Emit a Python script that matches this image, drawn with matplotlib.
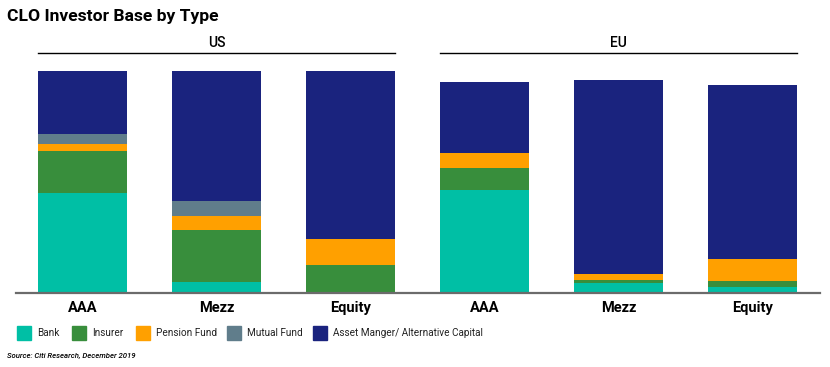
import matplotlib.pyplot as plt
from matplotlib.patches import Rectangle
import matplotlib.transforms as mtransforms

plt.rcParams['font.family'] = ['Roboto', 'DejaVu Sans']

# data (share of investor base, %)
categories = ["AAA", "Mezz", "Equity", "AAA", "Mezz", "Equity"]
regions = ["US", "EU"]
series = ["Bank", "Insurer", "Pension Fund", "Mutual Fund",
          "Asset Manger/ Alternative Capital"]
bank = [45.0, 4.8, 0.0, 46.3, 4.4, 2.6]
insurer = [19.0, 23.5, 12.5, 9.9, 1.3, 2.7]
pension = [3.0, 6.3, 11.7, 6.8, 2.7, 9.9]
mutual = [4.5, 6.8, 0.0, 0.0, 0.0, 0.0]
asset_mgr = [28.5, 58.6, 75.8, 32.0, 87.5, 78.5]

colors = ["#00BFA5", "#388E3C", "#FFA000", "#607D8B", "#1A237E"]

W, H = 830, 367
fig = plt.figure(figsize=(W / 100, H / 100), dpi=100)
ax = fig.add_axes([15.5 / W, (H - 292.7) / H, 804 / W, 221.7 / H])

x = list(range(len(categories)))
bottom = [0.0] * len(categories)
for vals, col in zip([bank, insurer, pension, mutual, asset_mgr], colors):
    ax.bar(x, vals, bottom=bottom, width=0.665, color=col, linewidth=0)
    bottom = [b + v for b, v in zip(bottom, vals)]

ax.set_xlim(-0.5, 5.5)
ax.set_ylim(0, 100)
ax.set_yticks([])
ax.set_xticks(x)
ax.set_xticklabels(categories, fontsize=10.5, fontweight='bold')
ax.tick_params(axis='x', length=0, pad=6)
for s in ["top", "right", "left"]:
    ax.spines[s].set_visible(False)
ax.spines["bottom"].set_color("#6b6b6b")
ax.spines["bottom"].set_linewidth(1.6)

# region headers
trans = mtransforms.blended_transform_factory(ax.transData, fig.transFigure)
y_line = (H - 53) / H
for i, reg in enumerate(regions):
    x0, x1 = 3 * i - 0.33, 3 * i + 2.33
    ax.plot([x0, x1], [y_line, y_line], color="black", lw=1.0,
            transform=trans, clip_on=False)
    ax.text(3 * i + 1, (H - 43) / H, reg, transform=trans, ha='center',
            va='center', fontsize=10, fontweight='medium')

fig.text(7 / W, (H - 17) / H, "CLO Investor Base by Type", fontsize=12.6,
         fontweight='bold', va='center', ha='left')

# legend
leg_x = [17, 72, 136, 227, 313]
for lx, lab, col in zip(leg_x, series, colors):
    fig.patches.append(Rectangle((lx / W, (H - 340) / H), 14 / W, 14 / H,
                                 transform=fig.transFigure, color=col))
    fig.text((lx + 20) / W, (H - 333) / H, lab, fontsize=7.2, va='center',
             ha='left', color="#222222")

fig.text(7 / W, (H - 356) / H, "Source: Citi Research, December 2019",
         fontsize=5.6, style='italic', va='center', ha='left',
         fontweight='medium')

fig.savefig("out.png", dpi=100)
